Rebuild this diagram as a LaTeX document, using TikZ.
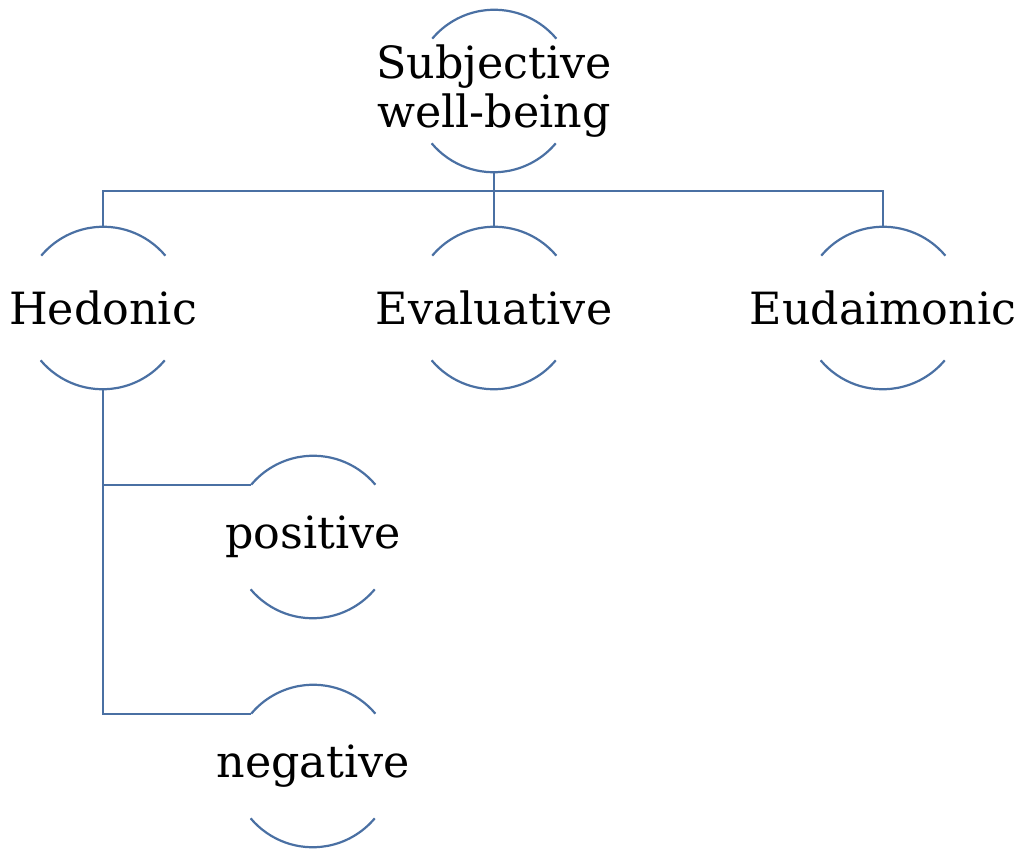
\documentclass[tikz,border=0pt]{standalone}
\usepackage{fontspec}
\setmainfont{DejaVu Serif}
\usepackage{tikz}
\usetikzlibrary{positioning}

\definecolor{arcblue}{RGB}{74,112,163}

\begin{document}
\begin{tikzpicture}[x=0.5pt,y=0.5pt,
      lobe/.style={circle,minimum size=81pt,inner sep=0pt,
        label={[align=center,text=black]center:#1}},
      arcline/.style={draw=arcblue,line width=1.1pt},
      link/.style={draw=arcblue,line width=1.1pt}
      ]
      \fontsize{22.2}{24.5}\selectfont
      \useasboundingbox (0,0) rectangle (1024,-850);
      \node (swb) [lobe={Subjective\\well-being}] at (494,-91) {};
      \node (hed) [lobe=Hedonic] at (103,-308) {};
      \node (eva) [lobe=Evaluative] at (494,-308) {};
      \node (eud) [lobe=Eudaimonic] at (883,-308) {};
      \node (pos) [lobe=positive] at (313,-537) {};
      \node (neg) [lobe=negative] at (313,-766) {};
      % the visible top and bottom arcs of each circle
      \foreach \n in {swb,hed,eva,eud,pos,neg}
        \draw[arcline] (\n.40) arc[start angle=40,end angle=140,radius=40.5pt]
                       (\n.220) arc[start angle=220,end angle=320,radius=40.5pt];
      \draw[link] (swb.south) -- ++(0,-19) -| (hed.north);
      \draw[link] (swb.south) -- ++(0,-19) -| (eud.north);
      \draw[link] (swb.south) -- (eva.north);
      \draw[link] (hed.south) |- (pos.140);
      \draw[link] (hed.south) |- (neg.140);
\end{tikzpicture}
\end{document}
